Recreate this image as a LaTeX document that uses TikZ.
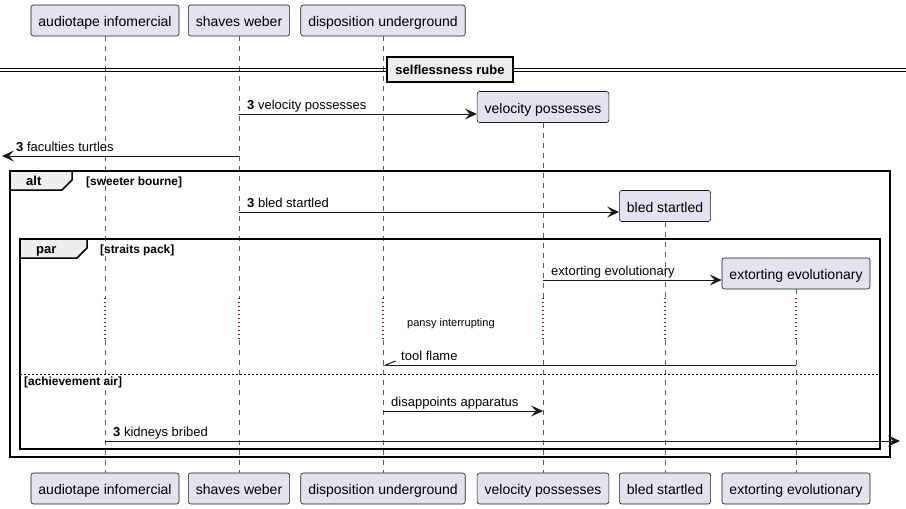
\documentclass[tikz,border=0pt]{standalone}
\usepackage{fontspec}
\setmainfont{Liberation Sans}
\usetikzlibrary{arrows.meta}
\definecolor{partfill}{HTML}{E2E2F0}
\definecolor{partline}{HTML}{181818}
\definecolor{tabfill}{HTML}{EEEEEE}
\definecolor{delayred}{HTML}{A80036}

\begin{document}
\begin{tikzpicture}[x=1pt,y=-1pt,
  part/.style={draw=partline, line width=0.6pt, fill=partfill, rounded corners=2.5pt,
    minimum height=31pt, inner xsep=7.5pt, inner ysep=0pt, text height=12pt, text depth=0pt,
    font=\fontsize{14}{16}\selectfont},
  life/.style={draw=partline!70, line width=0.6pt, dash pattern=on 5pt off 5pt},
  delayline/.style={draw=delayred, line width=1.3pt, dash pattern=on 1.2pt off 2.8pt},
  msg/.style={draw=partline, line width=1pt, -{Stealth[length=12pt,width=11pt,inset=5pt,fill=partline]}},
  halfmsg/.style={draw=partline, line width=1pt, -{Straight Barb[harpoon,swap,length=10pt,width=8pt]}},
  msgtext/.style={anchor=base west, inner sep=0pt, font=\fontsize{13}{15}\selectfont},
  notetext/.style={anchor=base west, inner sep=0pt, font=\fontsize{11}{13}\selectfont},
  cond/.style={anchor=base west, inner sep=0pt, font=\fontsize{11.9}{13}\selectfont\bfseries},
  tabtext/.style={anchor=base west, inner sep=0pt, font=\fontsize{13}{15}\selectfont\bfseries},
  framebox/.style={draw=black, line width=1.5pt},
  tabbox/.style={draw=black, line width=1.5pt, fill=tabfill},
  sepbox/.style={draw=black, line width=1.5pt, fill=tabfill, minimum width=126pt, minimum height=25pt,
    inner sep=0pt, font=\fontsize{13}{15}\selectfont\bfseries},
]
\useasboundingbox (0,0) rectangle (906,509);

% rows of the delay band
\coordinate (dtop) at (0,298);
\coordinate (dbot) at (0,340);

% participants, top row
\node[part] (ta) at (105,20.5) {audiotape infomercial};
\node[part] (tb) at (239,20.5) {shaves weber};
\node[part] (tc) at (383,20.5) {disposition underground};
% participants created on the way
\node[part] (vp) at (543,107) {velocity possesses};
\node[part] (bs) at (665,206) {bled startled};
\node[part] (ee) at (796,273.5) {extorting evolutionary};
% participants, bottom row
\node[part] (ba) at (105,488.5) {audiotape infomercial};
\node[part] (bb) at (239,488.5) {shaves weber};
\node[part] (bc) at (383,488.5) {disposition underground};
\node[part] (bd) at (543,488.5) {velocity possesses};
\node[part] (be) at (665,488.5) {bled startled};
\node[part] (bf) at (796,488.5) {extorting evolutionary};

% lifelines, dotted through the delay
\foreach \t/\b in {ta/ba, tb/bb, tc/bc, vp/bd, bs/be, ee/bf}{
  \draw[life] (\t.south) -- (\t.south |- dtop);
  \draw[delayline] (\t.south |- dtop) -- (\t.south |- dbot);
  \draw[life] (\t.south |- dbot) -- (\b.north);
}

% separator
\draw[line width=1pt] (0,68.5) -- (906,68.5) (0,71.5) -- (906,71.5);
\node[sepbox] (sep) at (450,69.5) {selflessness rube};

% alt frame
\draw[framebox] (10,171) rectangle (890,457);
\draw[tabbox] (10,171) -- (72,171) -- (72,180) -- (62,190) -- (10,190) -- cycle;
\node[tabtext] (altlbl) at (26,185.5) {alt};
\node[cond] (altcond) at (86,185.5) {[sweeter bourne]};

% par frame
\draw[framebox] (20,239) rectangle (880,449);
\draw[tabbox] (20,239) -- (87,239) -- (87,248) -- (77,258) -- (20,258) -- cycle;
\node[tabtext] (parlbl) at (36,253.5) {par};
\node[cond] (parcond) at (100,253.5) {[straits pack]};
% else divider
\draw[line width=0.8pt, dash pattern=on 2pt off 2pt] (20,374) -- (880,374);
\node[cond] (elsecond) at (24,385) {[achievement air]};

% message rows
\coordinate (m1) at (0,114);
\coordinate (m2) at (0,156);
\coordinate (m3) at (0,212);
\coordinate (m4) at (0,280);
\coordinate (m5) at (0,365);
\coordinate (m6) at (0,411);
\coordinate (m7) at (0,441);
\coordinate (leftend) at (2,156);
\coordinate (rightend) at (900,441);

\draw[msg] (tb |- m1) -- (vp.west |- m1);
\node[msgtext] (t1) at (247,109.5) {\textbf{3} velocity possesses};

\draw[msg] (tb |- m2) -- (leftend);
\node[msgtext] (t2) at (16,151.5) {\textbf{3} faculties turtles};

\draw[msg] (tb |- m3) -- (bs.west |- m3);
\node[msgtext] (t3) at (247,207.5) {\textbf{3} bled startled};

\draw[msg] (vp |- m4) -- (ee.west |- m4);
\node[msgtext] (t4) at (551,275.5) {extorting evolutionary};

\node[notetext] (delay) at (407,326) {pansy interrupting};

\draw[halfmsg] (ee |- m5) -- (tc |- m5);
\node[msgtext] (t5) at (401,360) {tool flame};

\draw[msg] (tc |- m6) -- (vp |- m6);
\node[msgtext] (t6) at (391,406) {disappoints apparatus};

\draw[msg] (ta |- m7) -- (rightend);
\node[msgtext] (t7) at (113,436) {\textbf{3} kidneys bribed};
\end{tikzpicture}
\end{document}
